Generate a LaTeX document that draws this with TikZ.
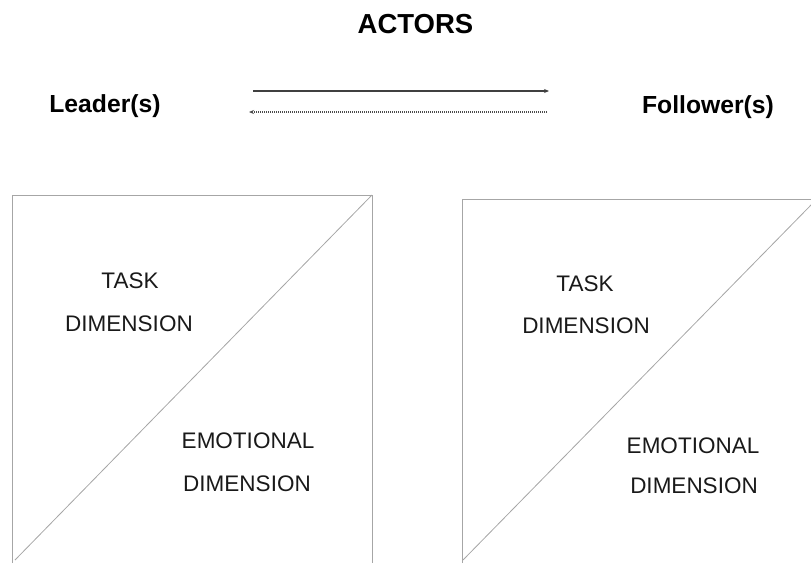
\documentclass[tikz,border=0pt]{standalone}
\usepackage{fontspec}
\setmainfont{Liberation Sans}
\usetikzlibrary{arrows.meta}
\begin{document}
\begin{tikzpicture}[x=1pt,y=-1pt,
  title/.style={font=\bfseries\fontsize{27.5}{30}\selectfont, anchor=base, inner sep=0pt},
  actor/.style={font=\bfseries\fontsize{24.7}{28}\selectfont, anchor=base, inner sep=0pt},
  dimtext/.style={font=\fontsize{22.5}{26}\selectfont, anchor=base, inner sep=0pt, text=black!90},
  boxline/.style={draw=black!35, line width=0.8pt},
  flow/.style={-{Stealth[length=5pt,width=4pt]}, line width=1.2pt, draw=black!75},
  flowdot/.style={-{Stealth[length=5pt,width=4pt]}, line width=1.2pt, draw=black!70, dash pattern=on 1.2pt off 0.8pt}]
\useasboundingbox (0,0) rectangle (811,563);
\node[title] (actors) at (415.5,33) {ACTORS};
\node[actor] (leader) at (105,112) {Leader(s)};
\node[actor] (follower) at (708,113) {Follower(s)};
\coordinate (a1s) at (253,91);
\coordinate (a1e) at (549,91);
\coordinate (a2s) at (547,112);
\coordinate (a2e) at (249,112);
\draw[flow] (a1s) -- (a1e);
\draw[flowdot] (a2s) -- (a2e);
% left box
\draw[boxline] (12,563) -- (12,195) -- (372,195) -- (372,563);
\draw[boxline] (15,560) -- (372,195);
% right box
\draw[boxline] (462,563) -- (462,199) -- (811,199);
\draw[boxline] (463,560) -- (812,204);
\node[dimtext] (lt1) at (130,288) {TASK};
\node[dimtext] (lt2) at (129,331) {DIMENSION};
\node[dimtext] (le1) at (248,448) {EMOTIONAL};
\node[dimtext] (le2) at (247,491) {DIMENSION};
\node[dimtext] (rt1) at (585,291) {TASK};
\node[dimtext] (rt2) at (586,333) {DIMENSION};
\node[dimtext] (re1) at (693,453) {EMOTIONAL};
\node[dimtext] (re2) at (694,493) {DIMENSION};
\end{tikzpicture}
\end{document}
